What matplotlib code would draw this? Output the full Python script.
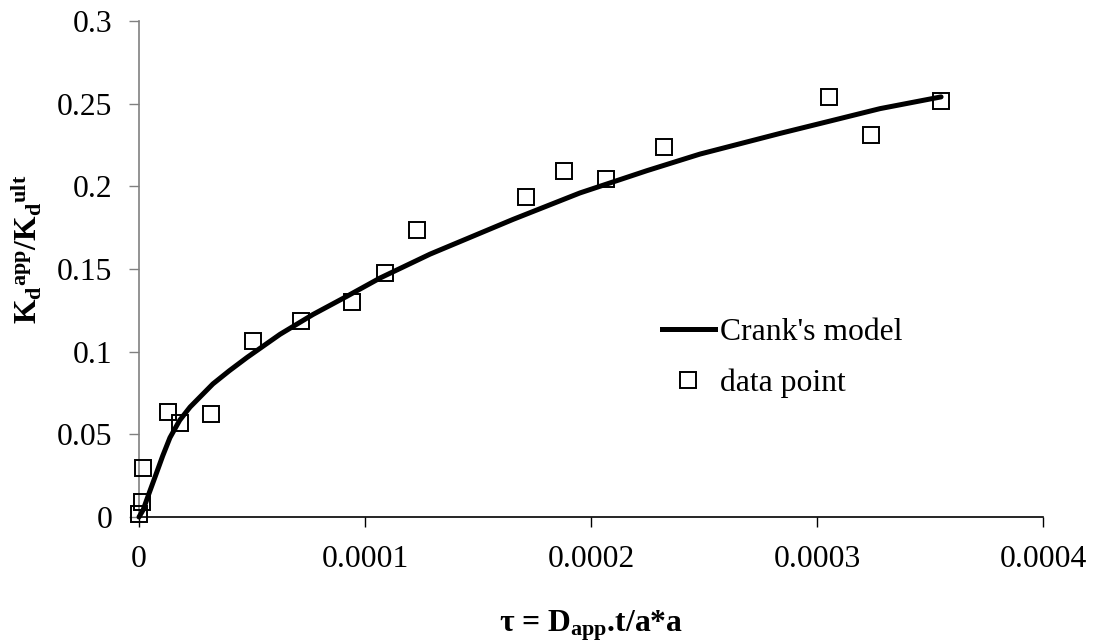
import matplotlib
matplotlib.use("Agg")
import numpy as np
from matplotlib import pyplot as plt
from matplotlib.lines import Line2D
from matplotlib.ticker import FuncFormatter

# measured data points
tau_data = [0.0, 0.0000013, 0.0000018, 0.0000128, 0.0000181, 0.0000319,
            0.0000504, 0.0000717, 0.0000942, 0.0001088, 0.000123, 0.0001712,
            0.0001881, 0.0002066, 0.0002323, 0.0003053, 0.0003239, 0.0003549]
kd_data = [0.002, 0.009, 0.0296, 0.0635, 0.0569, 0.0623,
           0.1065, 0.1186, 0.1301, 0.1476, 0.1736, 0.1936,
           0.2093, 0.2045, 0.2238, 0.2541, 0.2311, 0.2517]

# Crank's model curve
tau_model = [0.0, 0.0000018, 0.0000045, 0.0000071, 0.0000105, 0.0000137,
             0.000018, 0.0000226, 0.0000327, 0.000040, 0.0000478, 0.0000624,
             0.000077, 0.000092, 0.0001066, 0.0001288, 0.0001655, 0.0001951,
             0.0002248, 0.0002482, 0.0002836, 0.0003058, 0.0003279, 0.0003549]
kd_model = [0.0, 0.0042, 0.0145, 0.0242, 0.0370, 0.0480,
            0.0585, 0.0665, 0.0805, 0.0885, 0.0965, 0.1105,
            0.1225, 0.1335, 0.1445, 0.1590, 0.1800, 0.1960,
            0.2095, 0.2195, 0.2320, 0.2395, 0.2470, 0.2541]

plt.rcParams["font.family"] = ["Liberation Serif", "DejaVu Serif"]
plt.rcParams["mathtext.fontset"] = "custom"
plt.rcParams["mathtext.rm"] = "Liberation Serif"
plt.rcParams["mathtext.it"] = "Liberation Serif:italic"
plt.rcParams["mathtext.bf"] = "Liberation Serif:bold"

fs = 22.8

fig = plt.figure(figsize=(10.94, 6.44), dpi=100)
ax = fig.add_axes([139 / 1094, 1 - 517 / 644, 904 / 1094, 496 / 644])

ax.plot(tau_data, kd_data, ls="none", marker="s", ms=11.5, mfc="none",
        mec="black", mew=1.4, clip_on=False, zorder=3)
ax.plot(tau_model, kd_model, color="black", lw=3.6, solid_capstyle="round",
        solid_joinstyle="round", clip_on=False, zorder=4)

ax.set_xlim(0, 0.0004)
ax.set_ylim(0, 0.3)
ax.set_xticks([0, 0.0001, 0.0002, 0.0003, 0.0004])
ax.set_yticks([0, 0.05, 0.1, 0.15, 0.2, 0.25, 0.3])
fmt = FuncFormatter(lambda v, p: "%g" % v)
ax.xaxis.set_major_formatter(fmt)
ax.yaxis.set_major_formatter(fmt)

for s in ["top", "right"]:
    ax.spines[s].set_visible(False)
ax.spines["bottom"].set_color("black")
ax.spines["bottom"].set_linewidth(1.2)
ax.spines["left"].set_color("#808080")
ax.spines["left"].set_linewidth(1.2)
ax.tick_params(axis="x", direction="out", length=7, width=1.0, color="black",
               labelsize=fs, pad=13)
ax.tick_params(axis="y", direction="out", length=7, width=1.0, color="#808080",
               labelsize=fs, pad=12)

ax.set_xlabel(r"τ = D$_{\mathbf{app}}$.t/a*a", fontsize=fs, fontweight="bold")
ax.xaxis.set_label_coords(0.5, -0.184)
ax.set_ylabel(r"K$_{\mathbf{d}}$$^{\mathbf{app}}$/K$_{\mathbf{d}}$$^{\mathbf{ult}}$",
              fontsize=fs, fontweight="bold")
ax.yaxis.set_label_coords(-0.105, 0.54)

handles = [Line2D([], [], color="black", lw=3.6),
           Line2D([], [], ls="none", marker="s", ms=11.5, mfc="none",
                  mec="black", mew=1.4)]
ax.legend(handles, ["Crank's model", "data point"], frameon=False, fontsize=fs,
          loc="upper left", bbox_to_anchor=(662 / 1094, 1 - 318 / 644),
          bbox_transform=fig.transFigure, borderpad=0, borderaxespad=0,
          handlelength=1.67, handletextpad=0.16, labelspacing=0.67)

fig.savefig("out.png", dpi=100)
